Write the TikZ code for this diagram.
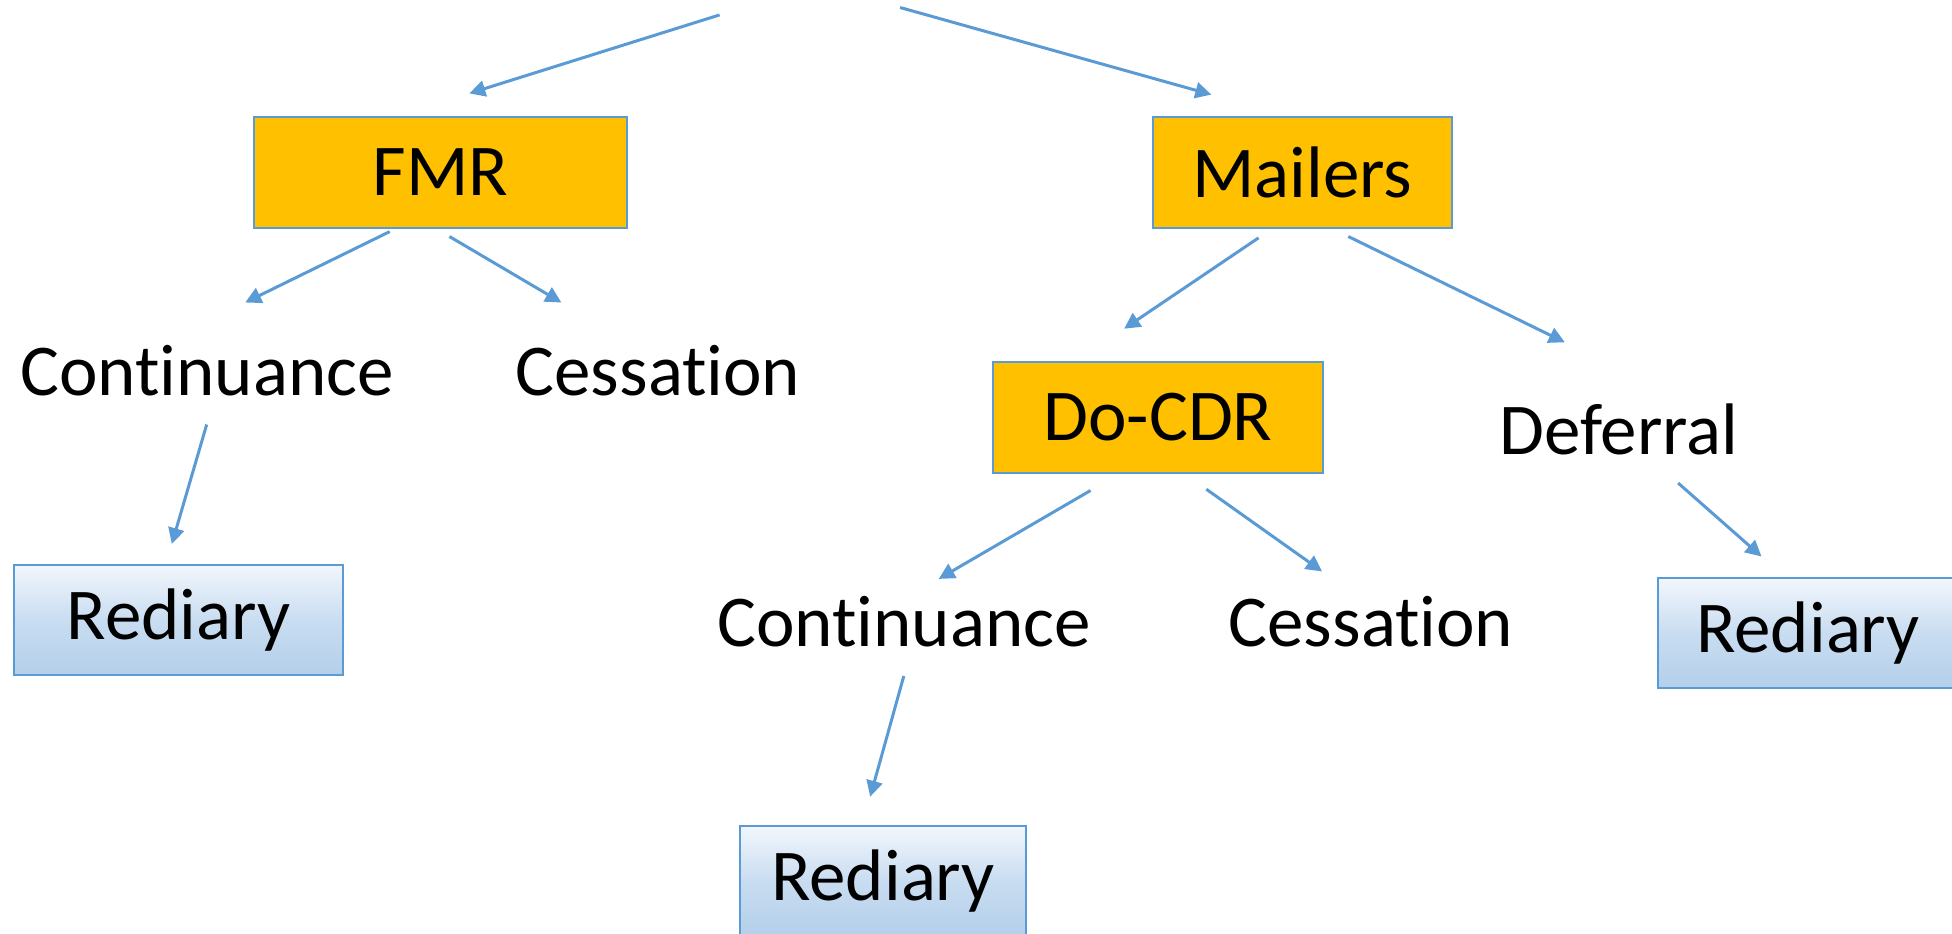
\documentclass[tikz,border=0pt]{standalone}
\usepackage{fontspec}
\setmainfont[Ligatures=NoCommon]{Carlito}
\usetikzlibrary{arrows.meta}
\definecolor{lnblue}{HTML}{5B9BD5}
\definecolor{boxorange}{HTML}{FFC000}
\definecolor{gradtop}{HTML}{F2F6FC}
\definecolor{gradmid}{HTML}{C9DDF1}
\definecolor{gradbot}{HTML}{B3CFEA}
\tikzset{
  lbl/.style={font=\fontsize{36.5}{40}\selectfont, inner sep=0pt, text=black},
  orbox/.style={lbl, draw=lnblue, line width=0.75pt, fill=boxorange, minimum height=55.5pt},
  rdbox/.style={lbl, draw=lnblue, line width=0.75pt, top color=gradtop, bottom color=gradbot, middle color=gradmid, minimum width=164.5pt, minimum height=55pt},
  conn/.style={draw=lnblue, line width=1.5pt, -{Triangle[length=8pt,width=8pt]}}
}
\begin{document}
\begin{tikzpicture}[x=0.5pt,y=-0.5pt]
\useasboundingbox (0,0) rectangle (1952,933);
% boxes
\node[orbox, minimum width=186.5pt] (fmr) at (440.5,172.5) {FMR};
\node[orbox, minimum width=149.5pt] (mailers) at (1302.5,172.5) {Mailers};
\node[orbox, minimum width=165pt] (docdr) at (1158,417.5) {Do-CDR};
\node[rdbox] (red1) at (178.5,620) {Rediary};
\node[rdbox, minimum width=150pt] (red2) at (1808,633) {Rediary};
\node[rdbox, minimum width=143pt] (red3) at (883,881) {Rediary};
% labels
\node[lbl] (cont1) at (207,371) {Continuance};
\node[lbl] (cess1) at (658,371) {Cessation};
\node[lbl] (defer) at (1619,429) {Deferral};
\node[lbl] (cont2) at (904,622) {Continuance};
\node[lbl] (cess2) at (1371,622) {Cessation};
% connector end points
\coordinate (r1s) at (719.6,14.9);   \coordinate (r1e) at (469.3,93.4);
\coordinate (r2s) at (900.1,7.5);    \coordinate (r2e) at (1211.3,94.6);
\coordinate (f1s) at (389.7,231.6);  \coordinate (f1e) at (245.2,302.5);
\coordinate (f2s) at (449.4,236.5);  \coordinate (f2e) at (561.4,302.5);
\coordinate (c1s) at (206.7,424.5);  \coordinate (c1e) at (171.8,544.0);
\coordinate (m1s) at (1258.6,237.8); \coordinate (m1e) at (1124.1,328.7);
\coordinate (m2s) at (1348.3,236.5); \coordinate (m2e) at (1564.8,342.3);
\coordinate (d1s) at (1090.5,490.5); \coordinate (d1e) at (938.7,578.9);
\coordinate (d2s) at (1206.3,489.2); \coordinate (d2e) at (1322.1,571.4);
\coordinate (e1s) at (1678.1,483.0); \coordinate (e1e) at (1761.5,556.5);
\coordinate (c2s) at (903.8,676.0);  \coordinate (c2e) at (870.2,796.7);
% connectors
\draw[conn] (r1s) -- (r1e);
\draw[conn] (r2s) -- (r2e);
\draw[conn] (f1s) -- (f1e);
\draw[conn] (f2s) -- (f2e);
\draw[conn] (c1s) -- (c1e);
\draw[conn] (m1s) -- (m1e);
\draw[conn] (m2s) -- (m2e);
\draw[conn] (d1s) -- (d1e);
\draw[conn] (d2s) -- (d2e);
\draw[conn] (e1s) -- (e1e);
\draw[conn] (c2s) -- (c2e);
\end{tikzpicture}
\end{document}
